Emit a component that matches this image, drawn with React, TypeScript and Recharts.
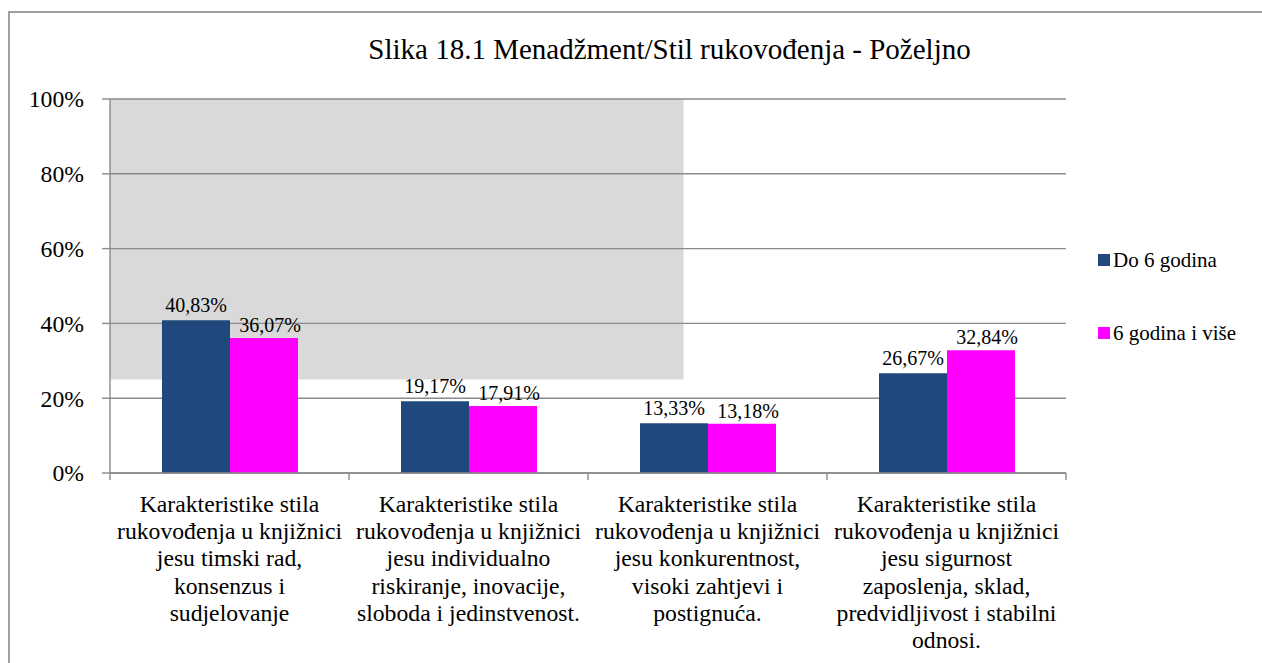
import React from 'react';
import { BarChart, Bar, XAxis, YAxis, CartesianGrid, LabelList, Legend, ReferenceArea } from 'recharts';

const FONT = '"Liberation Serif", "Times New Roman", Times, "DejaVu Serif", serif';

const titleText = 'Slika 18.1 Menadžment/Stil rukovođenja - Poželjno';

const categories = [
  'Karakteristike stila\nrukovođenja u knjižnici\njesu timski rad,\nkonsenzus i\nsudjelovanje',
  'Karakteristike stila\nrukovođenja u knjižnici\njesu individualno\nriskiranje, inovacije,\nsloboda i jedinstvenost.',
  'Karakteristike stila\nrukovođenja u knjižnici\njesu konkurentnost,\nvisoki zahtjevi i\npostignuća.',
  'Karakteristike stila\nrukovođenja u knjižnici\njesu sigurnost\nzaposlenja, sklad,\npredvidljivost i stabilni\nodnosi.',
];

const seriesNames = ['Do 6 godina', '6 godina i više'];
const doSestGodina = [40.83, 19.17, 13.33, 26.67];
const sestGodinaIVise = [36.07, 17.91, 13.18, 32.84];

const yTicks = [0, 20, 40, 60, 80, 100];
// grey backdrop block seen in the source (value space: category units / percent)
const backdropX = [0, 2.4];
const backdropY = [25, 100];
const categoryUnits = [0, 4];

const COLORS = ['#1F497D', '#FF00FF'];
const GRID = '#8a8a8a';

const data = categories.map((c, i) => ({
  category: c,
  pos: i + 0.5,
  a: doSestGodina[i],
  b: sestGodinaIVise[i],
}));

const fmtPct = (v: any) => `${Number(v).toFixed(2).replace('.', ',')}%`;

const CategoryTick = (props: any) => {
  const { x, y, payload, index, visibleTicksCount } = props;
  const lines = String(payload.value).split('\n');
  const half = Number(payload.offset) || 0;
  const isLast = index === (visibleTicksCount ?? categories.length) - 1;
  return (
    <g>
      {half > 0 && <line x1={x - half} x2={x - half} y1={y} y2={y + 7} stroke={GRID} strokeWidth={1.4} />}
      {half > 0 && isLast && <line x1={x + half} x2={x + half} y1={y} y2={y + 7} stroke={GRID} strokeWidth={1.4} />}
      <text x={x} y={y} textAnchor="middle" fontFamily={FONT} fontSize={23.7} fill="#000">
        {lines.map((l, i) => (
          <tspan key={i} x={x} dy={i === 0 ? 38.7 : 27.3}>
            {l}
          </tspan>
        ))}
      </text>
    </g>
  );
};

const LegendContent = () => (
  <div style={{ fontFamily: FONT }}>
    {seriesNames.map((n, i) => (
      <div
        key={n}
        style={{
          display: 'flex',
          alignItems: 'center',
          height: 24,
          marginBottom: i === 0 ? 49.3 : 0,
        }}
      >
        <span style={{ width: 12, height: 12, background: COLORS[i], display: 'inline-block', marginRight: 3 }} />
        <span style={{ fontSize: 21, lineHeight: '24px', color: '#000', whiteSpace: 'nowrap' }}>{n}</span>
      </div>
    ))}
  </div>
);

export default function App() {
  return (
    <div style={{ position: 'fixed', left: 0, top: 0, width: 1262, height: 663, overflow: 'hidden', background: '#fff' }}>
      <div
        style={{
          position: 'absolute',
          left: 8,
          top: 11,
          width: 1300,
          height: 700,
          border: '2px solid #a0a0a0',
          boxSizing: 'border-box',
        }}
      />
      <div
        style={{
          position: 'absolute',
          left: 669.5,
          top: 35,
          transform: 'translateX(-50%)',
          fontFamily: FONT,
          fontSize: 29,
          lineHeight: '29px',
          whiteSpace: 'nowrap',
          color: '#000',
        }}
      >
        {titleText}
      </div>
      <div style={{ position: 'absolute', left: 0, top: 0 }}>
        <BarChart
          width={1262}
          height={663}
          data={data}
          margin={{ top: 99, right: 196, bottom: 0, left: 0 }}
          barSize={68}
          barGap={0}
        >
          <ReferenceArea
            xAxisId="num"
            x1={backdropX[0]}
            x2={backdropX[1]}
            y1={backdropY[0]}
            y2={backdropY[1]}
            fill="#d9d9d9"
            fillOpacity={1}
            stroke="none"
            ifOverflow="visible"
            zIndex={-150}
          />
          <CartesianGrid vertical={false} stroke={GRID} strokeWidth={1.4} />
          <XAxis
            dataKey="category"
            type="category"
            interval={0}
            height={190}
            tickLine={false}
            axisLine={{ stroke: GRID, strokeWidth: 1.4 }}
            tickSize={0}
            tickMargin={0}
            tick={<CategoryTick />}
          />
          <XAxis
            xAxisId="num"
            dataKey="pos"
            type="number"
            domain={categoryUnits}
            allowDataOverflow
            hide
            height={0}
          />
          <YAxis
            type="number"
            domain={[0, 100]}
            ticks={yTicks}
            width={110}
            tickSize={8}
            tickMargin={18}
            tickFormatter={(v: number) => `${v}%`}
            tick={{ fontFamily: FONT, fontSize: 23.7, fill: '#000' }}
            tickLine={{ stroke: GRID, strokeWidth: 1.4 }}
            axisLine={{ stroke: GRID, strokeWidth: 1.4 }}
          />
          <Legend
            layout="vertical"
            align="center"
            verticalAlign="middle"
            content={<LegendContent />}
            wrapperStyle={{ left: 1098, top: 247.6, width: 160 }}
          />
          <Bar dataKey="a" name={seriesNames[0]} fill={COLORS[0]} isAnimationActive={false}>
            <LabelList
              dataKey="a"
              position="top"
              offset={8}
              formatter={fmtPct}
              fontFamily={FONT}
              fontSize={20}
              fill="#000"
            />
          </Bar>
          <Bar dataKey="b" name={seriesNames[1]} fill={COLORS[1]} isAnimationActive={false}>
            <LabelList
              dataKey="b"
              position="top"
              offset={6}
              dx={6}
              formatter={fmtPct}
              fontFamily={FONT}
              fontSize={20}
              fill="#000"
            />
          </Bar>
        </BarChart>
      </div>
    </div>
  );
}
